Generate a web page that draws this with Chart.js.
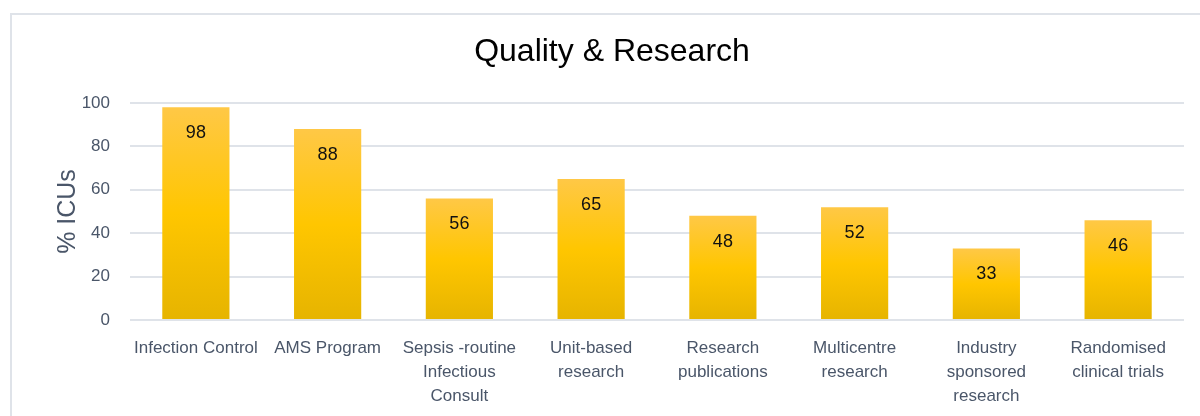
<!DOCTYPE html>
<html>
<head>
<meta charset="utf-8">
<script src="https://cdn.jsdelivr.net/npm/chart.js@4.4.1/dist/chart.umd.min.js"></script>
<style>
  html, body { margin: 0; padding: 0; background: #fff; overflow: hidden; width: 1200px; height: 416px; }
  #frame { position: absolute; left: 10px; top: 13px; width: 1250px; height: 450px; border: 2px solid #dfe3e9; box-sizing: border-box; }
  #c { position: absolute; left: 0; top: 0; }
</style>
</head>
<body>
<div id="frame"></div>
<canvas id="c" width="1200" height="416"></canvas>
<script>
const categories = [
  "Infection Control",
  "AMS Program",
  ["Sepsis -routine", "Infectious", "Consult"],
  ["Unit-based", "research"],
  ["Research", "publications"],
  ["Multicentre", "research"],
  ["Industry", "sponsored", "research"],
  ["Randomised", "clinical trials"]
];
const values = [98, 88, 56, 65, 48, 52, 33, 46];
const yTicks = [0, 20, 40, 60, 80, 100];
const chartTitle = "Quality & Research";
const yTitle = "% ICUs";

const FONT = "'Liberation Sans', Arial, sans-serif";
const TEXT = "#4a5669";

const barGradient = (ctx) => {
  const chart = ctx.chart;
  if (!chart.chartArea || !chart.scales.y || ctx.type !== 'data') return '#ffc600';
  const y = chart.scales.y;
  const top = y.getPixelForValue(ctx.raw);
  const bot = y.getPixelForValue(0);
  if (!isFinite(top) || !isFinite(bot) || top === bot) return '#ffc600';
  const g = chart.ctx.createLinearGradient(0, top, 0, bot);
  g.addColorStop(0, '#ffc846');
  g.addColorStop(0.5, '#ffc600');
  g.addColorStop(1, '#e6b400');
  return g;
};

const valueLabels = {
  id: 'valueLabels',
  afterDatasetsDraw(chart) {
    const c = chart.ctx;
    const meta = chart.getDatasetMeta(0);
    c.save();
    c.font = "18px " + FONT;
    c.fillStyle = "#111";
    c.textAlign = "center";
    c.textBaseline = "middle";
    meta.data.forEach((bar, i) => {
      c.fillText(String(values[i]), bar.x, bar.y + 26);
    });
    c.restore();
  }
};

new Chart(document.getElementById('c'), {
  type: 'bar',
  data: {
    labels: categories,
    datasets: [{
      data: values,
      backgroundColor: barGradient,
      borderWidth: 0,
      barPercentage: 0.51,
      categoryPercentage: 1.0
    }]
  },
  options: {
    responsive: false,
    animation: false,
    devicePixelRatio: 1,
    layout: { padding: { left: 40, right: 16, top: 0, bottom: 0 } },
    plugins: {
      legend: { display: false },
      tooltip: { enabled: false },
      title: {
        display: true,
        text: chartTitle,
        color: '#000',
        font: { family: FONT, size: 32, weight: 'normal', lineHeight: 1.2 },
        padding: { top: 33, bottom: 31.6 }
      }
    },
    scales: {
      x: {
        grid: { display: false, drawTicks: false },
        border: { display: false },
        ticks: {
          color: TEXT,
          font: { family: FONT, size: 17, lineHeight: 1.42 },
          maxRotation: 0,
          autoSkip: false,
          padding: 16
        },
        afterFit(scale) { scale.height = 96; }
      },
      y: {
        min: 0,
        max: 100,
        afterBuildTicks(scale) { scale.ticks = yTicks.map(v => ({ value: v })); },
        grid: { color: '#dfe3e9', lineWidth: 2, drawTicks: false },
        border: { display: false },
        ticks: {
          color: TEXT,
          font: { family: FONT, size: 17 },
          padding: 20
        },
        title: {
          display: true,
          text: yTitle,
          color: TEXT,
          font: { family: FONT, size: 25, weight: 'normal' },
          padding: { top: 13, bottom: 4 }
        },
        afterFit(scale) { scale.width = 90; }
      }
    }
  },
  plugins: [valueLabels]
});
</script>
</body>
</html>
